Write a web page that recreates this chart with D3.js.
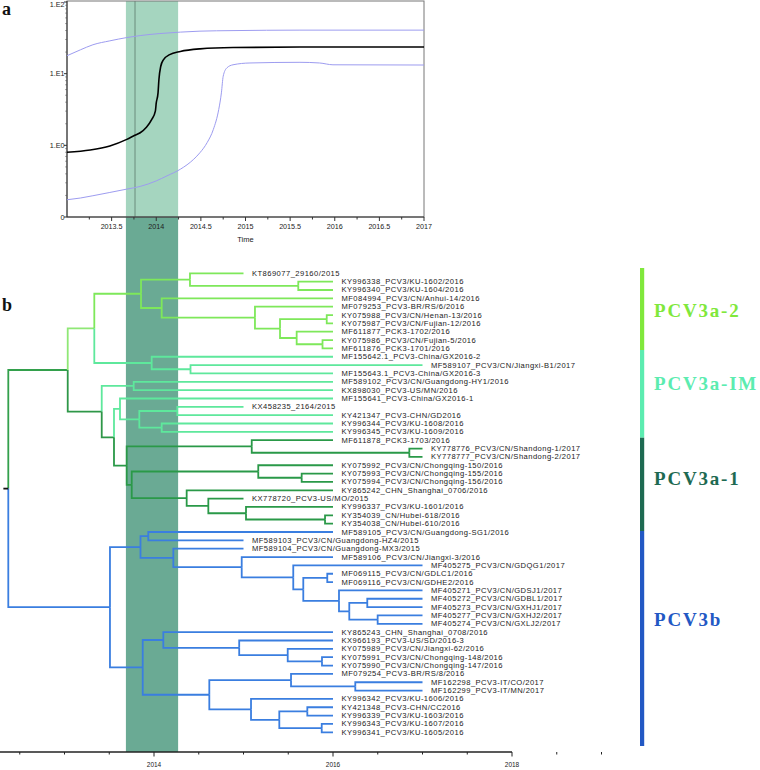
<!DOCTYPE html>
<html><head><meta charset="utf-8">
<script src="https://cdn.jsdelivr.net/npm/d3@7"></script>
<style>body{margin:0;background:#fff} svg{display:block}</style>
</head><body>
<svg id="chart" width="760" height="770"></svg>
<script>
// ---------- Panel a : Bayesian skyline ----------
const topXTicks = [2013.5, 2014, 2014.5, 2015, 2015.5, 2016, 2016.5, 2017];
const topYTicks = [0.1, 1, 10, 100];
const topYLabels = ["0", "1.E0", "1.E1", "1.E2"];
const medianYears  = [2013.0,2013.26,2013.48,2013.67,2013.76,2013.82,2013.89,2013.95,2013.99,2014.0,2014.02,2014.03,2014.05,2014.08,2014.15,2014.27,2014.49,2014.86,2015.61,2017.0];
const medianValues = [0.80,0.86,0.98,1.21,1.38,1.5,1.79,2.3,3.0,3.9,5.4,8.3,12.6,15.6,18.4,20.4,22.2,23.2,23.5,23.5];
const upperYears  = [2013.0,2013.15,2013.29,2013.48,2013.67,2013.82,2014.04,2014.27,2014.49,2014.86,2015.61,2017.0];
const upperValues = [17.8,21.5,25.3,28.7,31.9,34,36.3,38,39.2,39.9,40.5,40.5];
const lowerYears  = [2013.0,2013.15,2013.29,2013.48,2013.67,2013.82,2014.0,2014.12,2014.27,2014.42,2014.49,2014.57,2014.64,2014.70,2014.73,2014.75,2014.79,2014.86,2015.05,2015.61,2015.83,2015.98,2017.0];
const lowerValues = [0.174,0.184,0.198,0.22,0.245,0.267,0.319,0.375,0.464,0.64,0.79,1.09,1.67,3.16,5.4,9.2,12.0,13.3,14.1,14.4,14.1,13.3,13.2];
const hpdBand = [2013.66, 2014.245];
const tmrcaLine = 2013.762;

// ---------- Panel b : time-scaled tree ----------
const treeTicks = [2014, 2016, 2018];
const leafNames = [
"KT869077_29160/2015","KY996338_PCV3/KU-1602/2016","KY996340_PCV3/KU-1604/2016","MF084994_PCV3/CN/Anhui-14/2016",
"MF079253_PCV3-BR/RS/6/2016","KY075988_PCV3/CN/Henan-13/2016","KY075987_PCV3/CN/Fujian-12/2016","MF611877_PCK3-1702/2016",
"KY075986_PCV3/CN/Fujian-5/2016","MF611876_PCK3-1701/2016","MF155642.1_PCV3-China/GX2016-2","MF589107_PCV3/CN/Jiangxi-B1/2017",
"MF155643.1_PCV3-China/GX2016-3","MF589102_PCV3/CN/Guangdong-HY1/2016","KX898030_PCV3-US/MN/2016","MF155641_PCV3-China/GX2016-1",
"KX458235_2164/2015","KY421347_PCV3-CHN/GD2016","KY996344_PCV3/KU-1608/2016","KY996345_PCV3/KU-1609/2016",
"MF611878_PCK3-1703/2016","KY778776_PCV3/CN/Shandong-1/2017","KY778777_PCV3/CN/Shandong-2/2017","KY075992_PCV3/CN/Chongqing-150/2016",
"KY075993_PCV3/CN/Chongqing-155/2016","KY075994_PCV3/CN/Chongqing-156/2016","KY865242_CHN_Shanghai_0706/2016","KX778720_PCV3-US/MO/2015",
"KY996337_PCV3/KU-1601/2016","KY354039_CN/Hubei-618/2016","KY354038_CN/Hubei-610/2016","MF589105_PCV3/CN/Guangdong-SG1/2016",
"MF589103_PCV3/CN/Guangdong-HZ4/2015","MF589104_PCV3/CN/Guangdong-MX3/2015","MF589106_PCV3/CN/Jiangxi-3/2016","MF405275_PCV3/CN/GDQG1/2017",
"MF069115_PCV3/CN/GDLC1/2016","MF069116_PCV3/CN/GDHE2/2016","MF405271_PCV3/CN/GDSJ1/2017","MF405272_PCV3/CN/GDBL1/2017",
"MF405273_PCV3/CN/GXHJ1/2017","MF405277_PCV3/CN/GXHJ2/2017","MF405274_PCV3/CN/GXLJ2/2017","KY865243_CHN_Shanghai_0708/2016",
"KX966193_PCV3-US/SD/2016-3","KY075989_PCV3/CN/Jiangxi-62/2016","KY075991_PCV3/CN/Chongqing-148/2016","KY075990_PCV3/CN/Chongqing-147/2016",
"MF079254_PCV3-BR/RS/8/2016","MF162298_PCV3-IT/CO/2017","MF162299_PCV3-IT/MN/2017","KY996342_PCV3/KU-1606/2016",
"KY421348_PCV3-CHN/CC2016","KY996339_PCV3/KU-1603/2016","KY996343_PCV3/KU-1607/2016","KY996341_PCV3/KU-1605/2016"];
const leafDates = [2015,2016,2016,2016,2016,2016,2016,2016,2016,2016,2016,2017,2016,2016,2016,2016,2015,2016,2016,2016,
2016,2017,2017,2016,2016,2016,2016,2015,2016,2016,2016,2016,2015,2015,2016,2017,2016,2016,2017,2017,2017,2017,2017,
2016,2016,2016,2016,2016,2016,2017,2017,2016,2016,2016,2016,2016];
const leafParents = ["D","E","E","F","G","I","I","J","K","K","L","M","M","O","O","Q","S","S","T","T",
"V","X","X","Y","Y2","Y2","Z","AA","AB","AC","AC","DD","DD","EE","FF","GG","II","II","JJ","LL","LL","MM","MM",
"OO","PP","QQ","RR","RR","UU","TT","TT","VV","XX","XX","YY","YY"];
const leafClades = [0,0,0,0,0,0,0,0,0,0, 1,1,1,1,1,1,1,1,1,1, 2,2,2,2,2,2,2,2,2,2,2,
3,3,3,3,3,3,3,3,3,3,3,3,3,3,3,3,3,3,3,3,3,3,3,3,3];
const nodeIds = ["R0","A","B","C","D","E","F","G","H","I","J","K","L","M","N","O","P","Q","R","S","T","U","V","X","W","Y","Y2","Z","AA","AB","AC",
"BB","CC","DD","EE","FF","GG","HH","II","JJ","KK","LL","MM","NN","OO","PP","QQ","RR","SS","UU","TT","VV","WW","XX","YY"];
const nodeParents = ["","R0","A","B","C","D","C","F","G","H","H","J","B","L","A","N","N","P","Q","R","R","P","U","V","U","W","Y","W","Z","AA","AB",
"R0","BB","CC","CC","EE","FF","GG","HH","HH","JJ","KK","KK","BB","NN","OO","PP","QQ","NN","SS","UU","SS","VV","WW","WW"];
const nodeDates = [2012.372,2013.036,2013.333,2013.855,2014.402,2015.612,2014.086,2015.128,2015.408,2015.930,2015.594,2015.883,2013.974,2014.408,
2013.416,2013.773,2013.553,2013.620,2013.836,2014.260,2014.086,2013.695,2015.092,2016.853,2013.751,2015.165,2015.650,2014.365,2014.607,2015.028,2015.911,
2013.508,2013.849,2013.936,2014.216,2014.980,2015.556,2015.668,2015.936,2016.067,2016.182,2016.383,2016.499,
2013.874,2014.104,2014.952,2015.494,2015.877,2014.618,2015.531,2016.249,2015.084,2015.400,2015.713,2015.874];
const rootStub = 0.055;

const cladeNames = ["PCV3a-2","PCV3a-IM","PCV3a-1","PCV3b"];
const cladeLineColors = ["#7ee85a","#5ee89c","#2a9948","#3a7ee0"];
const mixedColors = {"0,1":"#8fe876","1,2":"#2e9748","0,1,2":"#33a04c"};
const legendColors = ["#80e83c","#5cecb0","#1e6a52","#2258c4"];

// ---------- drawing ----------
const svg = d3.select("#chart");
const font = "'Liberation Sans', Arial, Helvetica, sans-serif";
const serif = "'Liberation Serif', 'Times New Roman', serif";

const xTop = d3.scaleLinear().domain([2013, 2017]).range([67, 424]);
const yTop = d3.scaleLog().domain([0.1, 100]).range([217, 2]);
const xTree = d3.scaleLinear().domain([2014, 2018]).range([154, 512]);
const treeAxisY = 752;

// bands
svg.append("rect").attr("x", xTop(hpdBand[0])).attr("y", 1)
  .attr("width", xTop(hpdBand[1]) - xTop(hpdBand[0])).attr("height", 216).attr("fill", "#a5d5bf");
svg.append("rect").attr("x", xTop(hpdBand[0])).attr("y", 217)
  .attr("width", xTop(hpdBand[1]) - xTop(hpdBand[0])).attr("height", treeAxisY - 217).attr("fill", "#6aaa94");
svg.append("line").attr("x1", xTop(tmrcaLine)).attr("x2", xTop(tmrcaLine)).attr("y1", 1).attr("y2", 217)
  .attr("stroke", "#6b8c7c").attr("stroke-width", 1);

// frame of panel a
svg.append("rect").attr("x", 67).attr("y", 1).attr("width", 357).attr("height", 216)
  .attr("fill", "none").attr("stroke", "#777").attr("stroke-width", 1);
svg.append("line").attr("x1", 67).attr("x2", 67).attr("y1", 1).attr("y2", 217).attr("stroke", "#333");
svg.append("line").attr("x1", 67).attr("x2", 424).attr("y1", 217).attr("y2", 217).attr("stroke", "#333");

// x ticks top
d3.range(2013.25, 2017.01, 0.25).forEach(t => {
  const major = topXTicks.includes(t);
  svg.append("line").attr("x1", xTop(t)).attr("x2", xTop(t)).attr("y1", 217).attr("y2", major ? 221 : 219.5)
    .attr("stroke", "#333");
});
svg.append("g").selectAll("text").data(topXTicks).join("text")
  .attr("x", d => xTop(d)).attr("y", 229).attr("text-anchor", "middle")
  .attr("font-family", font).attr("font-size", 7.2).attr("fill", "#222").text(d => d);
svg.append("text").attr("x", xTop(2015)).attr("y", 241.5).attr("text-anchor", "middle")
  .attr("font-family", font).attr("font-size", 7.5).attr("fill", "#222").text("Time");

// y ticks top
topYTicks.forEach((t, i) => {
  svg.append("line").attr("x1", 64).attr("x2", 67).attr("y1", yTop(t)).attr("y2", yTop(t)).attr("stroke", "#333");
  svg.append("text").attr("x", 64.5).attr("y", Math.max(yTop(t), 4.5)).attr("dy", "0.35em").attr("text-anchor", "end")
    .attr("font-family", font).attr("font-size", 7.2).attr("fill", "#222").text(topYLabels[i]);
  if (i < topYTicks.length - 1) {
    for (let m = 2; m <= 9; m++) {
      svg.append("line").attr("x1", 65.3).attr("x2", 67).attr("y1", yTop(t * m)).attr("y2", yTop(t * m))
        .attr("stroke", "#555").attr("stroke-width", 0.7);
    }
  }
});

// curves
const lineGen = d3.line().x(d => xTop(d[0])).y(d => yTop(d[1])).curve(d3.curveMonotoneX);
const toPts = (xs, ys) => xs.map((x, i) => [x, ys[i]]);
svg.append("path").attr("d", lineGen(toPts(upperYears, upperValues))).attr("fill", "none")
  .attr("stroke", "#9d9cf0").attr("stroke-width", 1);
svg.append("path").attr("d", lineGen(toPts(lowerYears, lowerValues))).attr("fill", "none")
  .attr("stroke", "#9d9cf0").attr("stroke-width", 1);
svg.append("path").attr("d", lineGen(toPts(medianYears, medianValues))).attr("fill", "none")
  .attr("stroke", "#000").attr("stroke-width", 1.6);

// panel labels
svg.append("text").attr("x", 2).attr("y", 15).attr("font-family", serif).attr("font-weight", "bold")
  .attr("font-size", 18).attr("fill", "#111").text("a");
svg.append("text").attr("x", 2).attr("y", 311).attr("font-family", serif).attr("font-weight", "bold")
  .attr("font-size", 18).attr("fill", "#111").text("b");

// ---------- tree ----------
const rows = nodeIds.map((id, i) => ({id, parent: nodeParents[i] || null, date: nodeDates[i]}))
  .concat(leafNames.map((n, i) => ({id: n, parent: leafParents[i], date: leafDates[i], clade: leafClades[i], idx: i})));
const root = d3.stratify().id(d => d.id).parentId(d => d.parent)(rows);
root.eachAfter(n => {
  if (!n.children) { n.minIdx = n.data.idx; n.clades = [n.data.clade]; }
  else {
    n.minIdx = d3.min(n.children, c => c.minIdx);
    n.clades = Array.from(new Set(n.children.flatMap(c => c.clades))).sort();
  }
});
root.sort((a, b) => a.minIdx - b.minIdx);
const yLeaf = d3.scalePoint().domain(leafNames).range([273.3, 732.3]);
root.eachAfter(n => {
  n.px = xTree(n.data.date);
  n.py = n.children ? (n.children[0].py + n.children[n.children.length - 1].py) / 2 : yLeaf(n.data.id);
});
const colorOf = n => n.clades.length === 1 ? cladeLineColors[n.clades[0]] : (mixedColors[n.clades.join(",")] || "#33a04c");

const tg = svg.append("g");
tg.selectAll("path").data(root.descendants().filter(n => n.parent)).join("path")
  .attr("d", n => `M${n.parent.px},${n.parent.py}V${n.py}H${n.px}`)
  .attr("fill", "none").attr("stroke", colorOf).attr("stroke-width", 1.8);
tg.append("line").attr("x1", xTree(root.data.date - rootStub)).attr("x2", root.px)
  .attr("y1", root.py).attr("y2", root.py).attr("stroke", "#111").attr("stroke-width", 1.8);

tg.selectAll("text").data(root.leaves()).join("text")
  .attr("x", n => n.px + 8.5).attr("y", n => n.py).attr("dy", "0.33em")
  .attr("font-family", font).attr("font-size", 7.6).attr("letter-spacing", 0.45)
  .attr("fill", "#1a1a1a").text(n => n.data.id);

// tree axis
svg.append("line").attr("x1", 0).attr("x2", xTree(2018)).attr("y1", treeAxisY).attr("y2", treeAxisY)
  .attr("stroke", "#222").attr("stroke-width", 1.3);
d3.range(2012.5, 2019.01, 0.5).forEach(t => {
  const major = treeTicks.includes(t);
  svg.append("line").attr("x1", xTree(t)).attr("x2", xTree(t)).attr("y1", treeAxisY)
    .attr("y2", treeAxisY + (major ? 4.5 : 2.5)).attr("stroke", "#222").attr("stroke-width", 1);
});
svg.append("g").selectAll("text").data(treeTicks).join("text")
  .attr("x", d => xTree(d)).attr("y", 767).attr("text-anchor", "middle")
  .attr("font-family", font).attr("font-size", 6.5).attr("fill", "#222").text(d => d);

// clade legend
const legendSpans = [[268, 350], [350, 437.7], [437.7, 531], [531, 746]];
const legendLabelY = [310, 383.5, 478, 619];
cladeNames.forEach((c, i) => {
  svg.append("rect").attr("x", 640).attr("y", legendSpans[i][0]).attr("width", 4.2)
    .attr("height", legendSpans[i][1] - legendSpans[i][0]).attr("fill", legendColors[i]);
  svg.append("text").attr("x", 654).attr("y", legendLabelY[i]).attr("dy", "0.35em")
    .attr("font-family", serif).attr("font-weight", "bold").attr("font-size", 19)
    .attr("letter-spacing", 1.8).attr("fill", legendColors[i]).text(c);
});
</script>
</body></html>
